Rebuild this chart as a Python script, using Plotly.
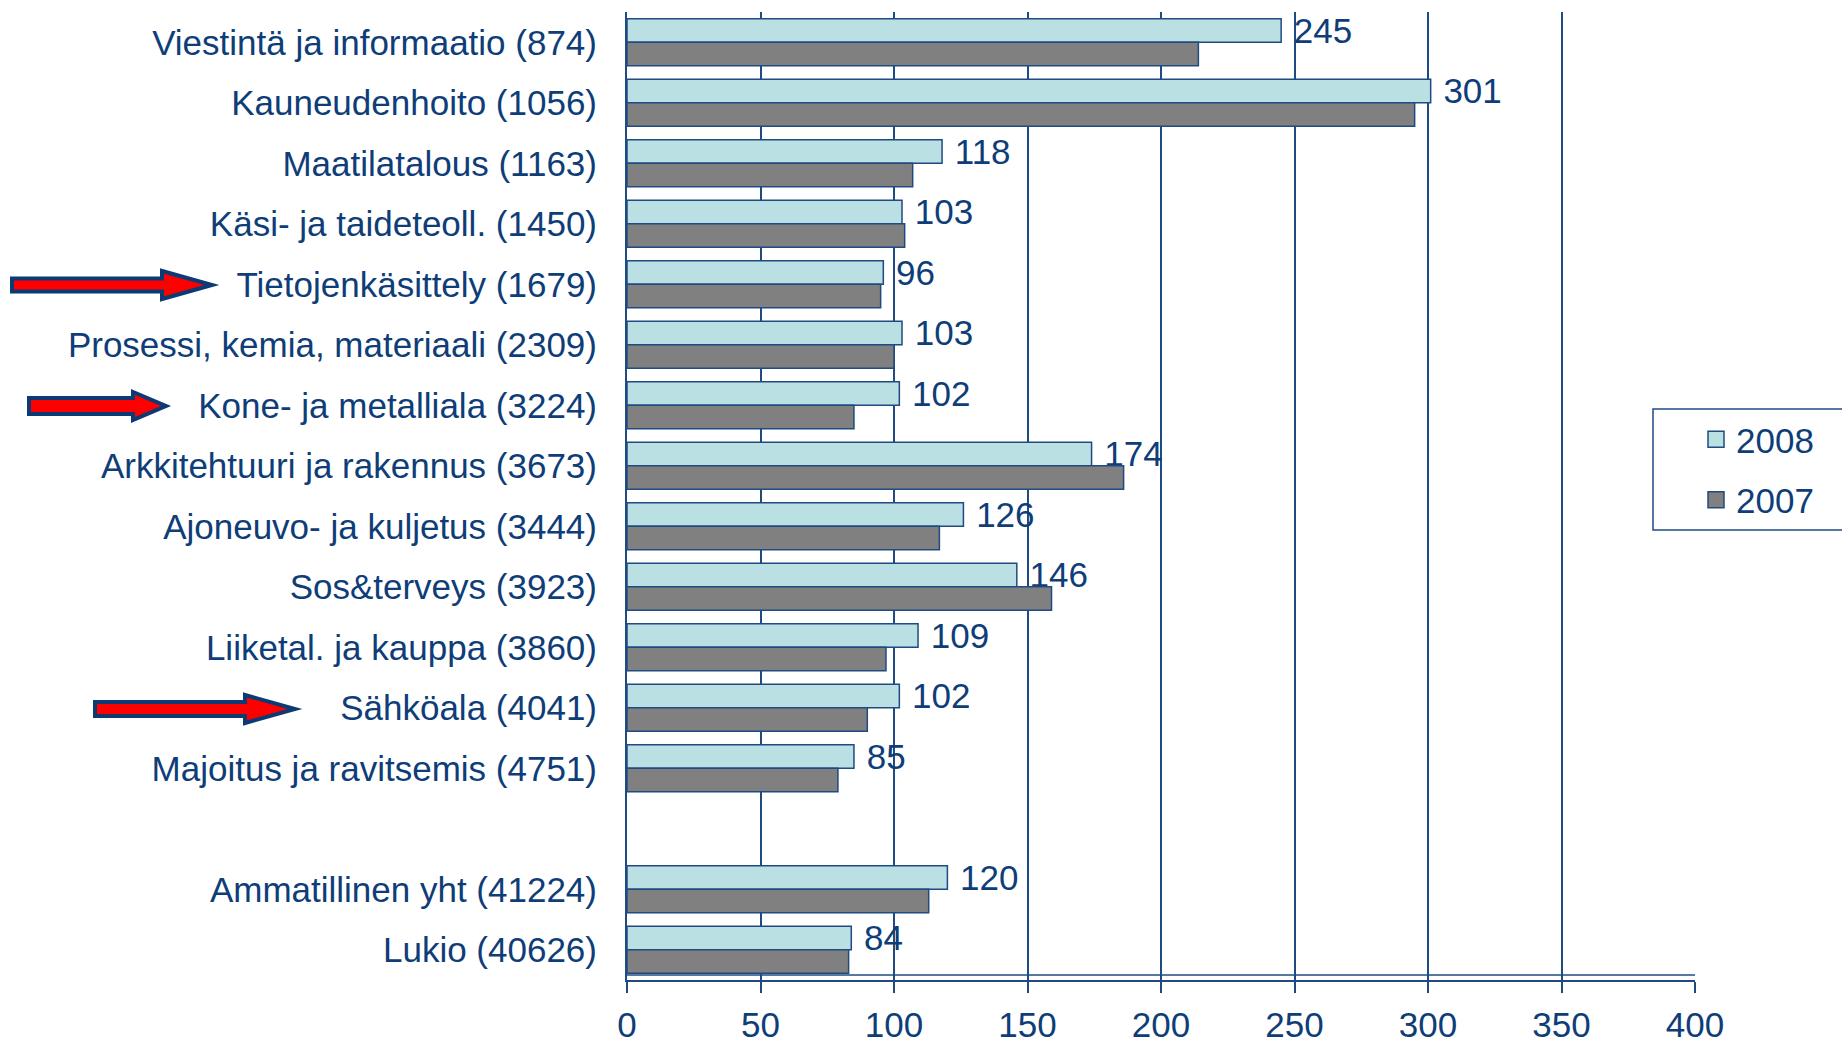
import plotly.graph_objects as go

categories = [
    "Viestintä ja informaatio (874)",
    "Kauneudenhoito (1056)",
    "Maatilatalous (1163)",
    "Käsi- ja taideteoll. (1450)",
    "Tietojenkäsittely (1679)",
    "Prosessi, kemia, materiaali (2309)",
    "Kone- ja metalliala (3224)",
    "Arkkitehtuuri ja rakennus (3673)",
    "Ajoneuvo- ja kuljetus (3444)",
    "Sos&terveys (3923)",
    "Liiketal. ja kauppa (3860)",
    "Sähköala (4041)",
    "Majoitus ja ravitsemis (4751)",
    " ",
    "Ammatillinen yht (41224)",
    "Lukio (40626)",
]
values_2008 = [245, 301, 118, 103, 96, 103, 102, 174, 126, 146, 109, 102, 85, None, 120, 84]
values_2007 = [214, 295, 107, 104, 95, 100, 85, 186, 117, 159, 97, 90, 79, None, 113, 83]
x_ticks = [0, 50, 100, 150, 200, 250, 300, 350, 400]
series_names = ["2008", "2007"]

W, H = 1842, 1043
ML, MR, MT, MB = 627, 147, 12, 63
PW, PH = W - ML - MR, H - MT - MB

TEXT = "#0E3D78"
LINE = "#1F4B82"
LIGHT = "#BBE0E3"
DARK = "#808080"
FONT = "Liberation Sans, Arial, sans-serif"
FS = 35


def px(xpix):
    return (xpix - ML) / PW


def py(ypix):
    return (H - MB - ypix) / PH


fig = go.Figure()
fig.add_trace(go.Bar(
    name=series_names[0], y=categories, x=values_2008, orientation="h",
    marker=dict(color=LIGHT, line=dict(color=LINE, width=1.5)),
    texttemplate=" %{x}", textposition="outside", constraintext="none",
    textfont=dict(size=FS, color=TEXT, family=FONT), cliponaxis=False,
    showlegend=False,
))
fig.add_trace(go.Bar(
    name=series_names[1], y=categories, x=values_2007, orientation="h",
    marker=dict(color=DARK, line=dict(color=LINE, width=1.5)),
    showlegend=False,
))
# legend entries (larger square swatches)
for nm, col, grp in [(series_names[0], LIGHT, "a"), (series_names[1], DARK, "b")]:
    fig.add_trace(go.Scatter(
        name=nm, x=[None], y=[None], mode="markers",
        marker=dict(symbol="square", size=18, color=col, line=dict(color=LINE, width=1.5)),
        legendgroup=grp, showlegend=True, hoverinfo="skip",
    ))

shapes = []
# second bottom line (Excel floor artifact)
shapes.append(dict(type="line", xref="x", yref="paper", x0=0, x1=400,
                   y0=py(975), y1=py(975), line=dict(color=LINE, width=1.5)))

# arrows (pixel geometry -> paper)
arrow_geo = [
    (12, 162, 212, 285, 6.5, 14),
    (29, 133, 166, 406, 8, 14),
    (95, 245, 295, 709, 7, 14),
]
for x0, xh, xt, yc, sh, hh in arrow_geo:
    pts = [(x0, yc - sh), (xh, yc - sh), (xh, yc - hh), (xt, yc),
           (xh, yc + hh), (xh, yc + sh), (x0, yc + sh)]
    path = "M " + " L ".join(f"{px(a):.5f},{py(b):.5f}" for a, b in pts) + " Z"
    shapes.append(dict(type="path", xref="paper", yref="paper", path=path,
                       fillcolor="#FF0000", line=dict(color="#0B3A75", width=4),
                       layer="above"))

# legend frame
shapes.append(dict(type="rect", xref="paper", yref="paper",
                   x0=px(1653), x1=px(1860), y0=py(409), y1=py(530),
                   fillcolor="white", line=dict(color=LINE, width=1.5), layer="above"))

fig.update_layout(
    width=W, height=H,
    margin=dict(l=ML, r=MR, t=MT, b=MB, pad=0, autoexpand=False),
    paper_bgcolor="white", plot_bgcolor="white",
    barmode="group", bargap=0.22, bargroupgap=0,
    font=dict(family=FONT, size=FS, color=TEXT),
    showlegend=True,
    legend=dict(x=px(1696), y=py(410), xanchor="left", yanchor="top",
                bgcolor="rgba(0,0,0,0)", borderwidth=0,
                font=dict(size=FS, color=TEXT, family=FONT),
                traceorder="grouped", tracegroupgap=12, itemsizing="trace"),
    shapes=shapes,
    xaxis=dict(range=[0, 400], tickvals=x_ticks, ticktext=[str(v) for v in x_ticks],
               showgrid=True, gridcolor=LINE, gridwidth=1.5, zeroline=False,
               showline=True, linecolor=LINE, linewidth=2, automargin=False,
               ticks="outside", ticklen=11, tickcolor=LINE, tickwidth=1.5,
               ticklabelstandoff=2,
               tickfont=dict(size=FS, color=TEXT, family=FONT)),
    yaxis=dict(type="category", categoryorder="array", categoryarray=categories,
               autorange="reversed", showgrid=False, zeroline=False,
               showline=True, linecolor=LINE, linewidth=2, automargin=False,
               ticks="outside", ticklen=21, tickcolor="rgba(0,0,0,0)",
               tickfont=dict(size=FS, color=TEXT, family=FONT)),
)

fig.write_html("out.html")
